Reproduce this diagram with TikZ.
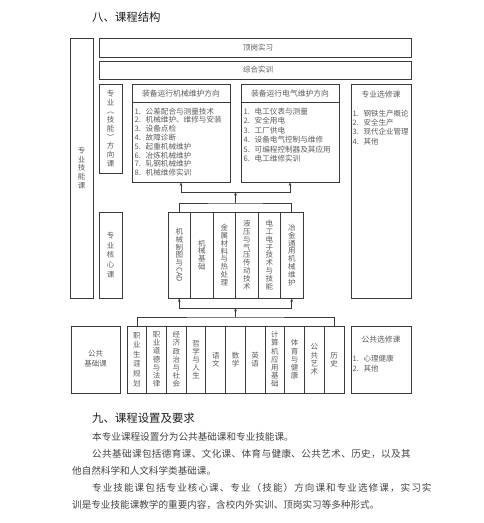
\documentclass[tikz,border=0pt]{standalone}
\usepackage{fontspec}
\setmainfont{Noto Sans CJK SC}
\usepackage{graphicx}
\usetikzlibrary{arrows.meta,calc}
\definecolor{ln}{HTML}{3A3A3A}
\definecolor{tx}{HTML}{5C5C5C}
\definecolor{hd}{HTML}{1E1E1E}
\definecolor{bd}{HTML}{454545}
\makeatletter
\def\VEnd{\VEnd}
\def\Vstack#1{\VstackA#1\VEnd}
\def\VstackA#1#2\VEnd{#1\ifx\VEnd#2\VEnd\expandafter\@gobble\else\expandafter\@firstofone\fi{\\\VstackA#2\VEnd}}
\makeatother
\newcommand\itm[1]{\makebox[1.45em][l]{#1}}
\tikzset{
 box/.style={draw=ln, line width=0.9pt, inner sep=0pt, rectangle},
 vt/.style={align=center, font=\fontsize{7.5}{8.2}\selectfont, text=tx},
 lbl/.style={inner sep=0pt, font=\fontsize{7.5}{9}\selectfont, text=tx},
 hdr/.style={inner sep=0pt, font=\fontsize{7.8}{9}\selectfont, text=tx},
 items/.style={inner sep=0pt, align=left, anchor=north west, text=tx},
 arr/.style={draw=ln, line width=0.7pt, -{Stealth[length=3.5pt,width=2.8pt]}},
 con/.style={draw=ln, line width=0.7pt},
 sepline/.style={draw=ln, line width=0.8pt},
 body/.style={inner sep=0pt, anchor=west, font=\fontsize{9.6}{11}\selectfont, text=bd},
 heading/.style={inner sep=0pt, anchor=west, font=\fontsize{11.4}{13}\selectfont, text=hd},
}
\begin{document}
\begin{tikzpicture}[x=1pt,y=-1pt]
\fill[white] (0,0) rectangle (484,523);
\useasboundingbox (0,0) rectangle (484,523);

\node[heading] (h1) at (92,17) {八、课程结构};

% left tall box
\node[box, vt, minimum width=23pt, minimum height=260pt, font=\fontsize{7.5}{8.6}\selectfont] (skill) at (81.5,168) {\Vstack{专业技能课}};

% top bars
\node[box, minimum width=312pt, minimum height=19pt] (dg) at (255,47.5) {};
\node[lbl] (dgt) at (258,47.5) {顶岗实习};
\node[box, minimum width=312pt, minimum height=18pt] (zh) at (255,70) {};
\node[lbl] (zht) at (258,70) {综合实训};

% direction course label
\node[box, vt, minimum width=23pt, minimum height=89pt, font=\fontsize{7.5}{8.7}\selectfont] (fx) at (110.5,128.5) {\Vstack{专业︵技能︶方向课}};

% mechanical direction
\node[box, minimum width=98pt, minimum height=98pt] (mech) at (181,133) {};
\draw[sepline] ($(mech.north west)+(0,19)$) -- ($(mech.north east)+(0,19)$);
\node[hdr] (mecht) at (181,93.5) {装备运行机械维护方向};
\node[items, font=\fontsize{7.6}{8.8}\selectfont] (mechi) at (134.5,107.5) {\itm{1.}公差配合与测量技术\\\itm{2.}机械维护、维修与安装\\\itm{3.}设备点检\\\itm{4.}故障诊断\\\itm{5.}起重机械维护\\\itm{6.}冶炼机械维护\\\itm{7.}轧钢机械维护\\\itm{8.}机械维修实训};

% electrical direction
\node[box, minimum width=98pt, minimum height=98pt] (elec) at (290,133) {};
\draw[sepline] ($(elec.north west)+(0,19)$) -- ($(elec.north east)+(0,19)$);
\node[hdr] (elect) at (290,93.5) {装备运行电气维护方向};
\node[items, font=\fontsize{7.6}{9.4}\selectfont] (eleci) at (243.5,108) {\itm{1.}电工仪表与测量\\\itm{2.}安全用电\\\itm{3.}工厂供电\\\itm{4.}设备电气控制与维修\\\itm{5.}可编程控制器及其应用\\\itm{6.}电工维修实训};

% professional electives
\node[box, minimum width=60pt, minimum height=214pt] (zyxx) at (381,191) {};
\node[hdr] (zyxxt) at (381,95) {专业选修课};
\node[items, font=\fontsize{7.5}{9.2}\selectfont] (zyxxi) at (352.5,110) {\itm{1.}钢铁生产概论\\\itm{2.}安全生产\\\itm{3.}现代企业管理\\\itm{4.}其他};

% core label
\node[box, vt, minimum width=23pt, minimum height=86pt, font=\fontsize{7.5}{9.6}\selectfont] (hx) at (110.5,255) {\Vstack{专业核心课}};

% core courses
\tikzset{corebox/.style={box, vt, minimum width=22.5pt, minimum height=86pt, font=\fontsize{7.5}{7.8}\selectfont}}
\node[corebox] (c1) at (179.25,255) {机\\械\\制\\图\\与\\\rotatebox[origin=c]{-90}{CAD}};
\node[corebox] (c2) at (201.75,255) {\Vstack{机械基础}};
\node[corebox] (c3) at (224.25,255) {\Vstack{金属材料与热处理}};
\node[corebox] (c4) at (246.75,255) {\Vstack{液压与气压传动技术}};
\node[corebox] (c5) at (269.25,255) {\Vstack{电工电子技术与技能}};
\node[corebox] (c6) at (291.75,255) {\Vstack{冶金通用机械维护}};

% public basic label
\node[box, minimum width=49pt, minimum height=67pt] (ggjc) at (95.5,359.5) {};
\node[lbl, align=center, font=\fontsize{7.5}{10}\selectfont] (ggjct) at (95.5,359) {公共\\基础课};

% public courses
\tikzset{pubbox/.style={box, vt, minimum width=19.73pt, minimum height=67pt, font=\fontsize{7.5}{8.2}\selectfont}}
\node[pubbox, font=\fontsize{7.5}{9.6}\selectfont] (p1) at (136.86,359.5) {\Vstack{职业生涯规划}};
\node[pubbox] (p2) at (156.59,359.5) {\Vstack{职业道德与法律}};
\node[pubbox] (p3) at (176.32,359.5) {\Vstack{经济政治与社会}};
\node[pubbox] (p4) at (196.05,359.5) {\Vstack{哲学与人生}};
\node[pubbox] (p5) at (215.77,359.5) {\Vstack{语文}};
\node[pubbox] (p6) at (235.50,359.5) {\Vstack{数学}};
\node[pubbox] (p7) at (255.23,359.5) {\Vstack{英语}};
\node[pubbox] (p8) at (274.95,359.5) {\Vstack{计算机应用基础}};
\node[pubbox] (p9) at (294.68,359.5) {\Vstack{体育与健康}};
\node[pubbox] (p10) at (314.41,359.5) {\Vstack{公共艺术}};
\node[pubbox] (p11) at (334.14,359.5) {\Vstack{历史}};

% public electives
\node[box, minimum width=60pt, minimum height=67pt] (ggxx) at (381,359.5) {};
\node[hdr] (ggxxt) at (381,340) {公共选修课};
\node[items, font=\fontsize{7.5}{10}\selectfont] (ggxxi) at (352.5,355) {\itm{1.}心理健康\\\itm{2.}其他};

% upper connectors
\coordinate (ub) at (235.5,203);
\coordinate (ua) at (235.5,192);
\draw[con] (c1.north) |- (ub) -| (c6.north);
\draw[arr] (ub) -- (ua);
\draw[arr] (ua) -| (mech.south);
\draw[arr] (ua) -| (elec.south);

% lower connectors
\coordinate (lb) at (235.5,317);
\coordinate (la) at (235.5,308);
\draw[con] (p1.north) |- (lb) -| (p11.north);
\draw[arr] (lb) -- (la);
\draw[arr] (la) -| (c1.south);
\draw[arr] (la) -| (c6.south);

% section nine
\node[heading] (h2) at (92,418) {九、课程设置及要求};
\node[body] (t1) at (92,437) {本专业课程设置分为公共基础课和专业技能课。};
\node[body] (t2) at (92,454) {\addfontfeatures{LetterSpace=3.8}公共基础课包括德育课、文化课、体育与健康、公共艺术、历史，以及其};
\node[body] (t3) at (72,471) {他自然科学和人文科学类基础课。};
\node[body] (t4) at (92,488) {\addfontfeatures{LetterSpace=10.8}专业技能课包括专业核心课、专业（技能）方向课和专业选修课，实习实};
\node[body] (t5) at (72,505) {训是专业技能课教学的重要内容，含校内外实训、顶岗实习等多种形式。};
\end{tikzpicture}
\end{document}
